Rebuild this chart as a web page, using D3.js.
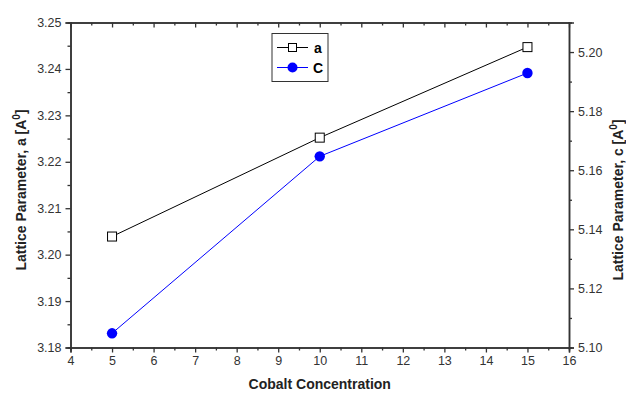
<!DOCTYPE html>
<html>
<head>
<meta charset="utf-8">
<script src="https://cdn.jsdelivr.net/npm/d3@7"></script>
<style>
  body { margin: 0; background: #fff; }
  svg { font-family: "Liberation Sans", Arial, sans-serif; }
  .tick text { fill: #333; font-size: 12.5px; }
  .axis-title { font-size: 14px; font-weight: bold; fill: #222; }
</style>
</head>
<body>
<div id="chart"></div>
<script>
// Data
const concentration = [5, 10, 15];
const latticeA = [3.2039, 3.2252, 3.2447];
const latticeC = [5.1048, 5.1647, 5.1929];
const seriesNames = ["a", "C"];

const xTicks = d3.range(4, 16.01, 1);
const yLeftTicks = [3.18, 3.19, 3.2, 3.21, 3.22, 3.23, 3.24, 3.25];
const yRightTicks = [5.1, 5.12, 5.14, 5.16, 5.18, 5.2];

// Sizes
const WIDTH = 626;
const HEIGHT = 394;
const LEFT = 70.5, RIGHT = 569, TOP = 22.5, BOTTOM = 347.5;
const AXIS_COLOR = "#333";

var svg = d3
  .select("#chart")
  .append("svg")
  .attr("width", WIDTH)
  .attr("height", HEIGHT);

// Scales
const x = d3.scaleLinear().domain([4, 16]).range([LEFT, RIGHT]);
const yA = d3.scaleLinear().domain([3.18, 3.25]).range([BOTTOM, TOP]);
const yC = d3.scaleLinear().domain([5.1, 5.21]).range([BOTTOM, TOP]);

// Minor ticks helper
function minorAxis(axis, values) {
  return axis.tickValues(values).tickSize(3).tickFormat("");
}

function styleAxis(g) {
  g.select(".domain").attr("stroke", AXIS_COLOR).attr("stroke-width", 1.5);
  g.selectAll(".tick line").attr("stroke", AXIS_COLOR).attr("stroke-width", 1.3);
}

// Bottom axis
svg.append("g")
  .attr("transform", `translate(0,${BOTTOM})`)
  .call(minorAxis(d3.axisBottom(x), d3.range(4.5, 16, 1)))
  .call(styleAxis);
svg.append("g")
  .attr("transform", `translate(0,${BOTTOM})`)
  .call(d3.axisBottom(x).tickValues(xTicks).tickSize(5).tickPadding(4).tickFormat(d3.format("d")))
  .call(styleAxis);

// Top axis (ticks inside)
svg.append("g")
  .attr("transform", `translate(0,${TOP})`)
  .call(d3.axisBottom(x).tickValues(d3.range(4.5, 16, 1)).tickSize(3).tickFormat("").tickSizeOuter(0))
  .call(styleAxis);
svg.append("g")
  .attr("transform", `translate(0,${TOP})`)
  .call(d3.axisBottom(x).tickValues(xTicks).tickSize(5).tickFormat("").tickSizeOuter(0))
  .call(styleAxis);

// Left axis
svg.append("g")
  .attr("transform", `translate(${LEFT},0)`)
  .call(minorAxis(d3.axisLeft(yA), d3.range(3.185, 3.25, 0.01)))
  .call(styleAxis);
svg.append("g")
  .attr("transform", `translate(${LEFT},0)`)
  .call(d3.axisLeft(yA).tickValues(yLeftTicks).tickSize(5).tickPadding(4).tickFormat(d3.format(".2f")))
  .call(styleAxis);

// Right axis
svg.append("g")
  .attr("transform", `translate(${RIGHT},0)`)
  .call(minorAxis(d3.axisRight(yC), d3.range(5.11, 5.21, 0.02)))
  .call(styleAxis);
svg.append("g")
  .attr("transform", `translate(${RIGHT},0)`)
  .call(d3.axisRight(yC).tickValues(yRightTicks).tickSize(5).tickPadding(4).tickFormat(d3.format(".2f")))
  .call(styleAxis);

// Axis titles
svg.append("text")
  .attr("class", "axis-title")
  .attr("x", (LEFT + RIGHT) / 2)
  .attr("y", 389)
  .attr("text-anchor", "middle")
  .text("Cobalt Concentration");

var leftTitle = svg.append("text")
  .attr("class", "axis-title")
  .attr("transform", "translate(26,190) rotate(-90)")
  .attr("text-anchor", "middle");
leftTitle.append("tspan").text("Lattice Parameter, a [A");
leftTitle.append("tspan").attr("dy", -6).attr("font-size", "10px").text("0");
leftTitle.append("tspan").attr("dy", 6).text("]");

var rightTitle = svg.append("text")
  .attr("class", "axis-title")
  .attr("transform", "translate(623,200) rotate(-90)")
  .attr("text-anchor", "middle");
rightTitle.append("tspan").text("Lattice Parameter, c [A");
rightTitle.append("tspan").attr("dy", -6).attr("font-size", "10px").text("0");
rightTitle.append("tspan").attr("dy", 6).text("]");

// Lines
const lineA = d3.line().x((d, i) => x(concentration[i])).y((d) => yA(d));
const lineC = d3.line().x((d, i) => x(concentration[i])).y((d) => yC(d));

svg.append("path")
  .datum(latticeA)
  .attr("d", lineA)
  .attr("fill", "none")
  .attr("stroke", "#000")
  .attr("stroke-width", 1);

svg.append("path")
  .datum(latticeC)
  .attr("d", lineC)
  .attr("fill", "none")
  .attr("stroke", "#0000ff")
  .attr("stroke-width", 1);

// Markers
svg.selectAll(".sq")
  .data(latticeA)
  .enter()
  .append("rect")
  .attr("class", "sq")
  .attr("x", (d, i) => x(concentration[i]) - 4.5)
  .attr("y", (d) => yA(d) - 4.5)
  .attr("width", 9)
  .attr("height", 9)
  .attr("fill", "#fff")
  .attr("stroke", "#000")
  .attr("stroke-width", 1);

svg.selectAll(".dot")
  .data(latticeC)
  .enter()
  .append("circle")
  .attr("class", "dot")
  .attr("cx", (d, i) => x(concentration[i]))
  .attr("cy", (d) => yC(d))
  .attr("r", 5.2)
  .attr("fill", "#0000ff");

// Legend
var legend = svg.append("g").attr("transform", "translate(272,33.5)");
legend.append("rect")
  .attr("width", 56)
  .attr("height", 48)
  .attr("fill", "#fff")
  .attr("stroke", "#333")
  .attr("stroke-width", 1);

legend.append("line")
  .attr("x1", 5).attr("x2", 36).attr("y1", 14).attr("y2", 14)
  .attr("stroke", "#000");
legend.append("rect")
  .attr("x", 16.5).attr("y", 10).attr("width", 8).attr("height", 8)
  .attr("fill", "#fff").attr("stroke", "#000");
legend.append("text")
  .attr("x", 42).attr("y", 19)
  .attr("font-size", "14px").attr("font-weight", "bold")
  .text(seriesNames[0]);

legend.append("line")
  .attr("x1", 5).attr("x2", 36).attr("y1", 34).attr("y2", 34)
  .attr("stroke", "#0000ff");
legend.append("circle")
  .attr("cx", 20.5).attr("cy", 34).attr("r", 5)
  .attr("fill", "#0000ff");
legend.append("text")
  .attr("x", 41).attr("y", 39.5)
  .attr("font-size", "14px").attr("font-weight", "bold")
  .text(seriesNames[1]);
</script>
</body>
</html>
